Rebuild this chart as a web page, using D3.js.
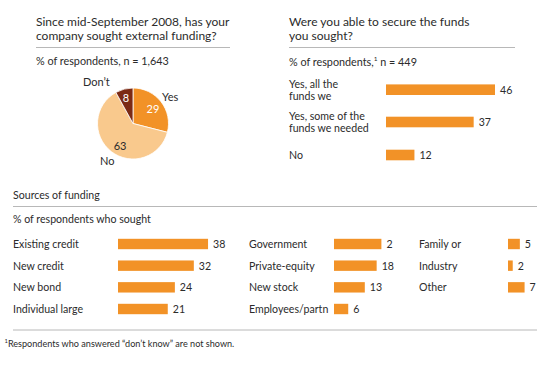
<!DOCTYPE html>
<html><head><meta charset="utf-8">
<script src="https://cdn.jsdelivr.net/npm/d3@7"></script>
<style>
html,body{margin:0;padding:0;background:#fff;}
svg{display:block;font-family:Lato, "Noto Sans", sans-serif;}
</style></head>
<body><div id="chart"></div>
<script>
// ---- data ----
const pieCategories = ["Yes", "No", "Don't"];
const pieValues = [29, 63, 8];

const securedCategories = [["Yes, all the", "funds we"], ["Yes, some of the", "funds we needed"], ["No"]];
const securedValues = [46, 37, 12];

const sourcesCol1 = ["Existing credit", "New credit", "New bond", "Individual large"];
const sourcesCol1Values = [38, 32, 24, 21];
const sourcesCol2 = ["Government", "Private-equity", "New stock", "Employees/partn"];
const sourcesCol2Values = [20, 18, 13, 6];
const sourcesCol2Text = ["2", "18", "13", "6"]; // value labels as printed
const sourcesCol3 = ["Family or", "Industry", "Other"];
const sourcesCol3Values = [5, 2, 7];

const W = 545, H = 366;
const orange = "#f29227";
const textCol = "#2b2b2b";
const ruleCol = "#b8b8b8";
const LBL = 10.6;

const svg = d3.select("#chart").append("svg").attr("width", W).attr("height", H);

// common bar-length scale (same px per % everywhere)
const x = d3.scaleLinear().domain([0, 46]).range([0, 109]);

function txt(g, s, px, py, opts = {}) {
  return g.append("text").attr("x", px).attr("y", py)
    .attr("dominant-baseline", "central")
    .attr("font-size", opts.size || LBL)
    .attr("fill", opts.fill || textCol)
    .attr("text-anchor", opts.anchor || "start")
    .text(s);
}
function rule(x1, x2, y) {
  svg.append("line").attr("x1", x1).attr("x2", x2).attr("y1", y).attr("y2", y)
    .attr("stroke", ruleCol).attr("stroke-width", 1);
}

// ---- top-left: pie ----
txt(svg, "Since mid-September 2008, has your", 36, 21, {size: 12});
txt(svg, "company sought external funding?", 36, 35, {size: 12});
rule(36, 230, 47.5);
txt(svg, "% of respondents, n = 1,643", 36, 60.5, {size: 10.8});

const pieColors = d3.scaleOrdinal().domain(pieCategories).range(["#f29227", "#f9c98d", "#7b2a14"]);
const pie = d3.pie().sort(null).value(d => d)(pieValues);
const arc = d3.arc().innerRadius(0).outerRadius(35.5);
const pg = svg.append("g").attr("transform", "translate(133,123.5)");
pg.selectAll("path").data(pie).join("path")
  .attr("d", arc)
  .attr("fill", (d, i) => pieColors(pieCategories[i]))
  .attr("stroke", "#fff").attr("stroke-width", 0.8);
const valPos = [[20, -15.5], [-13, 22], [-7, -26.5]];
pie.forEach((d, i) => {
  txt(pg, String(pieValues[i]), valPos[i][0], valPos[i][1],
      {size: 11, anchor: "middle", fill: i === 1 ? textCol : "#fff"});
});
txt(svg, "Yes", 162, 96, {size: 11});
txt(svg, "Don\u2019t", 83, 81, {size: 11});
txt(svg, "No", 100, 160, {size: 11});

// ---- top-right: secured funds ----
txt(svg, "Were you able to secure the funds", 289, 21, {size: 12});
txt(svg, "you sought?", 289, 35, {size: 12});
rule(289, 515, 47.5);
const sub = svg.append("text").attr("x", 289).attr("y", 60.5)
  .attr("dominant-baseline", "central").attr("font-size", 10.8).attr("fill", textCol);
sub.append("tspan").text("% of respondents,");
sub.append("tspan").attr("font-size", 6.5).attr("dy", -3).text("1");
sub.append("tspan").attr("dy", 3).text(" n = 449");

const sy = [89.7, 122, 155];
const bx = 386;
securedValues.forEach((v, i) => {
  const lines = securedCategories[i];
  lines.forEach((l, j) => {
    const yy = lines.length === 1 ? sy[i] : sy[i] - 5.8 + j * 11.6;
    txt(svg, l, 289, yy);
  });
  svg.append("rect").attr("x", bx).attr("y", sy[i] - 5.3)
    .attr("width", x(v)).attr("height", 10.6).attr("fill", orange);
  txt(svg, String(v), bx + x(v) + 5, sy[i]);
});

// ---- bottom: sources of funding ----
txt(svg, "Sources of funding", 13, 195);
rule(13, 537, 206.5);
txt(svg, "% of respondents who sought", 13, 218.5, {size: 10.6});

const rowY = d3.scalePoint().domain([0, 1, 2, 3]).range([244, 309]);
function column(labels, values, texts, lx, barX) {
  values.forEach((v, i) => {
    const yy = rowY(i);
    txt(svg, labels[i], lx, yy);
    svg.append("rect").attr("x", barX).attr("y", yy - 5.2)
      .attr("width", x(v)).attr("height", 10.4).attr("fill", orange);
    txt(svg, texts ? texts[i] : String(v), barX + x(v) + 5, yy);
  });
}
column(sourcesCol1, sourcesCol1Values, null, 13, 118);
column(sourcesCol2, sourcesCol2Values, sourcesCol2Text, 249, 334);
column(sourcesCol3, sourcesCol3Values, null, 419, 508);

rule(13, 537, 330);
const fn = svg.append("text").attr("x", 4.5).attr("y", 342.5)
  .attr("dominant-baseline", "central").attr("font-size", 9.1).attr("fill", textCol);
fn.append("tspan").attr("font-size", 5.8).attr("dy", -2.5).text("1");
fn.append("tspan").attr("dy", 2.5).text("Respondents who answered \u201cdon\u2019t know\u201d are not shown.");
</script>
</body></html>
